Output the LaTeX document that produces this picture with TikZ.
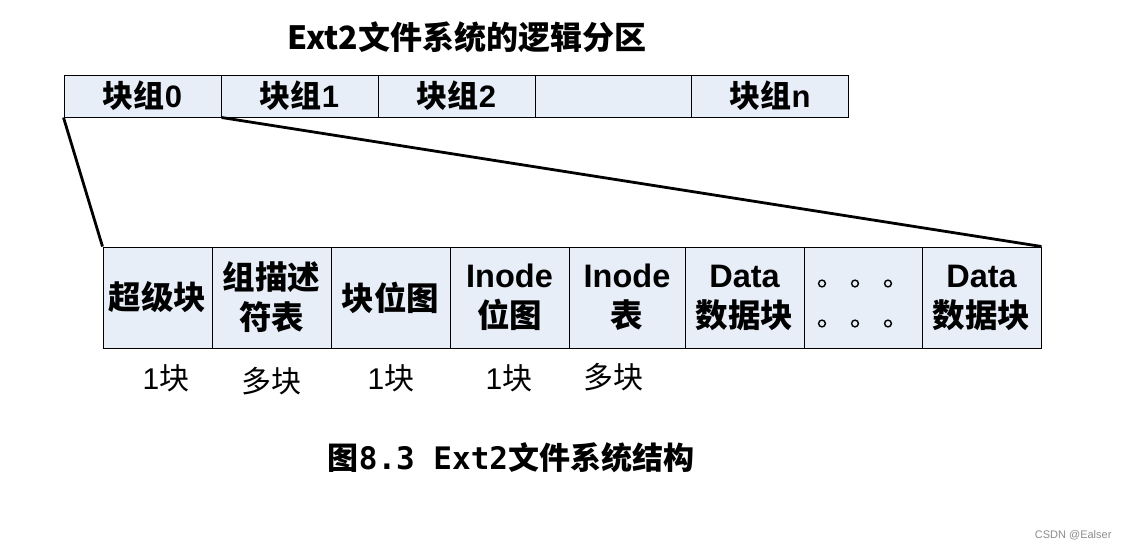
\documentclass[tikz,border=0pt]{standalone}
\usepackage{fontspec}
\setmainfont{Liberation Sans}
\newfontfamily\cjk{Noto Sans CJK SC}
\newfontfamily\monob{DejaVu Sans Mono}
\definecolor{cellblue}{RGB}{232,238,248}
\definecolor{wmgrey}{RGB}{140,140,140}
\begin{document}
\begin{tikzpicture}[x=1pt,y=-1pt,
  topcell/.style={draw=black,line width=1pt,fill=cellblue,minimum height=42pt,minimum width=157pt,inner sep=0pt,font=\fontsize{31}{33}\selectfont\bfseries},
  botcell/.style={draw=black,line width=1pt,fill=cellblue,minimum height=101pt,inner sep=0pt,align=center,font=\fontsize{32.5}{40}\selectfont\bfseries},
  sizelabel/.style={font=\fontsize{30}{32}\selectfont,inner sep=0pt},
  link/.style={line width=2.8pt,black},
  dot/.style={line width=1.4pt,black}]
\useasboundingbox (0,0) rectangle (1129,550);
% title
\node[font=\fontsize{32}{34}\selectfont\bfseries\cjk] (title) at (467,37) {Ext2文件系统的逻辑分区};
% top row
\node[topcell] (t0) at (142.5,96) {{\cjk 块组}0};
\node[topcell] (t1) at (299.5,96) {{\cjk 块组}1};
\node[topcell] (t2) at (456.5,96) {{\cjk 块组}2};
\node[topcell] (t3) at (613.5,96) {};
\node[topcell] (t4) at (770,96) {{\cjk 块组}n};
% bottom row
\node[botcell,minimum width=109pt] (b0) at (157.5,297.5) {\cjk 超级块};
\node[botcell,minimum width=119pt] (b1) at (271.5,297.5) {\cjk 组描述\\\cjk 符表};
\node[botcell,minimum width=119pt] (b2) at (390.5,297.5) {\cjk 块位图};
\node[botcell,minimum width=119pt] (b3) at (509.5,297.5) {Inode\\\cjk 位图};
\node[botcell,minimum width=116pt] (b4) at (627,297.5) {Inode\\\cjk 表};
\node[botcell,minimum width=119pt] (b5) at (744.5,297.5) {Data\\\cjk 数据块};
\node[botcell,minimum width=118pt] (b6) at (863,297.5) {};
\node[botcell,minimum width=119pt] (b7) at (981.5,297.5) {Data\\\cjk 数据块};
% dots
\foreach \dx in {-41,-8,25}{
  \foreach \dy in {-14,26}{
    \draw[dot] ([shift={(\dx,\dy)}]b6.center) circle (3.4pt);
  }
}
% connectors
\draw[link] (t0.south west) -- (b0.north west);
\draw[link] (t0.south east) -- (b7.north east);
% size labels
\node[sizelabel] (l0) at (166,378) {1{\cjk 块}};
\node[sizelabel] (l1) at (271,381) {\cjk 多块};
\node[sizelabel] (l2) at (391,378) {1{\cjk 块}};
\node[sizelabel] (l3) at (509,378) {1{\cjk 块}};
\node[sizelabel] (l4) at (613,377) {\cjk 多块};
% caption
\node[font=\fontsize{31}{33}\selectfont\bfseries] (cap) at (511,458) {{\cjk 图}{\monob 8.3 Ext2}{\cjk 文件系统结构}};
% watermark
\node[font=\fontsize{11}{12}\selectfont,text=wmgrey,anchor=east] (wm) at (1115,535) {CSDN @Ealser};
\end{tikzpicture}
\end{document}
